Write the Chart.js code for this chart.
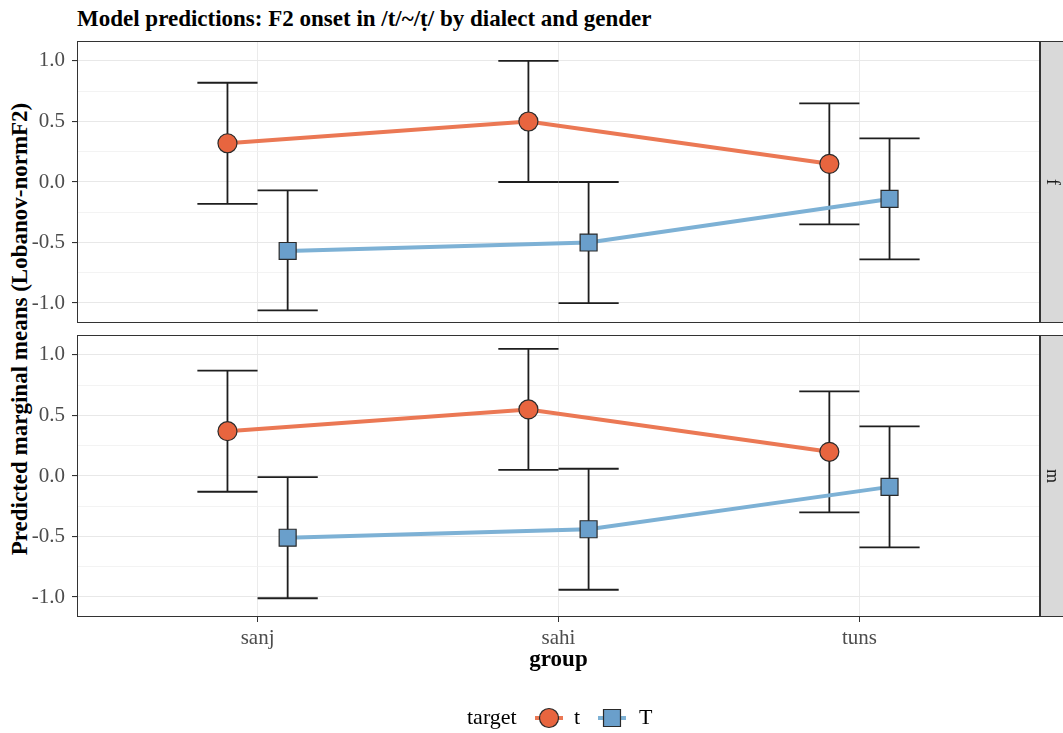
<!DOCTYPE html>
<html>
<head>
<meta charset="utf-8">
<script src="https://cdn.jsdelivr.net/npm/chart.js@4.4.1/dist/chart.umd.min.js"></script>
<style>
body { margin: 0; background: #fff; }
#wrap { position: relative; width: 1063px; height: 733px; overflow: hidden; font-family: 'Liberation Serif', serif; }
#wrap canvas { position: absolute; left: 0; }
#title { position: absolute; left: 77px; top: 6px; font-weight: bold; font-size: 23px; color: #000; white-space: nowrap; }
#ytitle { position: absolute; left: 20px; top: 329px; transform: translate(-50%, -50%) rotate(-90deg); font-weight: bold; font-size: 23px; color: #000; white-space: nowrap; }
</style>
</head>
<body>
<div id="wrap">
    <div id="title">Model predictions: F2 onset in /t/~/ṭ/ by dialect and gender</div>
    <div id="ytitle">Predicted marginal means (Lobanov-normF2)</div>
    <canvas id="panelF" width="1063" height="344" style="top:0"></canvas>
    <canvas id="panelM" width="1063" height="418" style="top:315px"></canvas>
</div>
<script>
const groups = ['sanj', 'sahi', 'tuns'];
const facets = ['f', 'm'];
const yTicks = [-1.0, -0.5, 0.0, 0.5, 1.0];
const yMinor = [-0.75, -0.25, 0.25, 0.75];

// facet f
const f_t_mean = [0.32, 0.50, 0.15];
const f_t_lo   = [-0.18, 0.00, -0.35];
const f_t_hi   = [0.82, 1.00, 0.65];
const f_T_mean = [-0.57, -0.50, -0.14];
const f_T_lo   = [-1.06, -1.00, -0.64];
const f_T_hi   = [-0.07, 0.00, 0.36];

// facet m
const m_t_mean = [0.37, 0.55, 0.20];
const m_t_lo   = [-0.13, 0.05, -0.30];
const m_t_hi   = [0.87, 1.05, 0.70];
const m_T_mean = [-0.51, -0.44, -0.09];
const m_T_lo   = [-1.01, -0.94, -0.59];
const m_T_hi   = [-0.01, 0.06, 0.41];

const FONT = "'Liberation Serif', serif";
const style = {
    t: { line: '#eb7854', fill: '#e8653f', shape: 'circle', radius: 9.5, off: -0.1 },
    T: { line: '#7db1d5', fill: '#6a9fcb', shape: 'rect', radius: 12, off: 0.1 }
};

function seriesFor(label, mean, lo, hi) {
    const s = style[label];
    return {
        label: label,
        data: mean.map((v, i) => ({ x: i + s.off, y: v, lo: lo[i], hi: hi[i] })),
        borderColor: s.line,
        borderWidth: 4,
        pointStyle: s.shape,
        pointRadius: s.radius,
        pointHoverRadius: s.radius,
        pointBackgroundColor: s.fill,
        pointBorderColor: '#2a2a2a',
        pointBorderWidth: 1.2,
        tension: 0
    };
}

const errorBars = {
    id: 'errorBars',
    beforeDatasetsDraw(chart) {
        const ctx = chart.ctx, xs = chart.scales.x, ys = chart.scales.y;
        ctx.save();
        ctx.strokeStyle = '#1e1e1e';
        ctx.lineWidth = 1.8;
        chart.data.datasets.forEach(ds => {
            ds.data.forEach(p => {
                const x = xs.getPixelForValue(p.x);
                const half = xs.getPixelForValue(p.x + 0.1) - x;
                const y1 = ys.getPixelForValue(p.lo), y2 = ys.getPixelForValue(p.hi);
                ctx.beginPath();
                ctx.moveTo(x, y1); ctx.lineTo(x, y2);
                ctx.moveTo(x - half, y1); ctx.lineTo(x + half, y1);
                ctx.moveTo(x - half, y2); ctx.lineTo(x + half, y2);
                ctx.stroke();
            });
        });
        ctx.restore();
    }
};

const panelFrame = {
    id: 'panelFrame',
    afterDraw(chart, args, opts) {
        const ctx = chart.ctx, a = chart.chartArea;
        ctx.save();
        ctx.strokeStyle = '#333333';
        ctx.lineWidth = 1;
        ctx.strokeRect(a.left + 0.5, a.top + 0.5, a.right - a.left - 1, a.bottom - a.top - 1);
        // strip on the right
        ctx.fillStyle = '#d9d9d9';
        ctx.fillRect(a.right, a.top, 26, a.bottom - a.top);
        ctx.strokeRect(a.right + 0.5, a.top + 0.5, 26, a.bottom - a.top - 1);
        ctx.translate(a.right + 12, (a.top + a.bottom) / 2);
        ctx.rotate(Math.PI / 2);
        ctx.fillStyle = '#1a1a1a';
        ctx.font = '18px ' + FONT;
        ctx.textAlign = 'center';
        ctx.textBaseline = 'middle';
        ctx.fillText(opts.label, 0, 0);
        ctx.restore();
    }
};

const keyLegend = {
    id: 'keyLegend',
    afterDraw(chart, args, opts) {
        if (!opts.show) return;
        const ctx = chart.ctx, y = opts.y;
        ctx.save();
        ctx.font = '22px ' + FONT;
        ctx.fillStyle = '#000';
        ctx.textBaseline = 'middle';
        ctx.textAlign = 'left';
        ctx.fillText('target', 467, y);
        const keys = [{ x: 549, tx: 574 }, { x: 612, tx: 639 }];
        chart.data.datasets.forEach((ds, i) => {
            const k = keys[i];
            ctx.strokeStyle = ds.borderColor;
            ctx.lineWidth = 4;
            ctx.beginPath();
            ctx.moveTo(k.x - 14, y); ctx.lineTo(k.x + 14, y);
            ctx.stroke();
            ctx.fillStyle = ds.pointBackgroundColor;
            ctx.strokeStyle = ds.pointBorderColor;
            ctx.lineWidth = ds.pointBorderWidth;
            ctx.beginPath();
            if (ds.pointStyle === 'circle') ctx.arc(k.x, y, ds.pointRadius, 0, Math.PI * 2);
            else { const h = ds.pointRadius * Math.SQRT1_2; ctx.rect(k.x - h, y - h, 2 * h, 2 * h); }
            ctx.fill(); ctx.stroke();
            ctx.fillStyle = '#000';
            ctx.fillText(ds.label, k.tx, y);
        });
        ctx.restore();
    }
};

function makePanel(id, facet, datasets, bottom) {
    return new Chart(document.getElementById(id), {
        type: 'line',
        data: { datasets: datasets },
        options: {
            responsive: false,
            animation: false,
            layout: { padding: bottom ? { top: 20, right: 23, bottom: 56, left: 0 } : { top: 41, right: 23, bottom: 0, left: 0 } },
            plugins: {
                legend: { display: false },
                tooltip: { enabled: false },
                panelFrame: { label: facet },
                keyLegend: { show: bottom, y: 403 }
            },
            scales: {
                x: {
                    type: 'linear',
                    min: -0.6, max: 2.6,
                    afterBuildTicks: s => { s.ticks = groups.map((g, i) => ({ value: i })); },
                    afterFit: s => { s.height = bottom ? 60 : 21; },
                    border: { display: false },
                    grid: { color: '#ebebeb', lineWidth: 1, drawTicks: bottom, tickLength: 5, tickColor: '#333333' },
                    ticks: {
                        display: bottom,
                        padding: 4,
                        color: '#4d4d4d',
                        font: { family: FONT, size: 21 },
                        callback: v => groups[v]
                    },
                    title: {
                        display: bottom,
                        text: 'group',
                        color: '#000',
                        font: { family: FONT, size: 23, weight: 'bold' },
                        padding: { top: 0, bottom: 3 }
                    }
                },
                y: {
                    min: -1.165, max: 1.165,
                    afterBuildTicks: s => {
                        s.ticks = yTicks.concat(yMinor).sort((a, b) => a - b).map(v => ({ value: v }));
                    },
                    afterFit: s => { s.width = 77; },
                    border: { display: false },
                    grid: {
                        tickLength: 5,
                        color: c => yTicks.includes(c.tick.value) ? '#e8e8e8' : '#f0f0f0',
                        lineWidth: c => yTicks.includes(c.tick.value) ? 1.1 : 0.8,
                        tickColor: c => yTicks.includes(c.tick.value) ? '#333333' : 'rgba(0,0,0,0)'
                    },
                    ticks: {
                        padding: 7,
                        color: '#4d4d4d',
                        font: { family: FONT, size: 21 },
                        callback: v => yTicks.includes(v) ? v.toFixed(1) : ''
                    }
                }
            }
        },
        plugins: [errorBars, panelFrame, keyLegend]
    });
}

makePanel('panelF', facets[0], [
    seriesFor('t', f_t_mean, f_t_lo, f_t_hi),
    seriesFor('T', f_T_mean, f_T_lo, f_T_hi)
], false);

makePanel('panelM', facets[1], [
    seriesFor('t', m_t_mean, m_t_lo, m_t_hi),
    seriesFor('T', m_T_mean, m_T_lo, m_T_hi)
], true);
</script>
</body>
</html>
